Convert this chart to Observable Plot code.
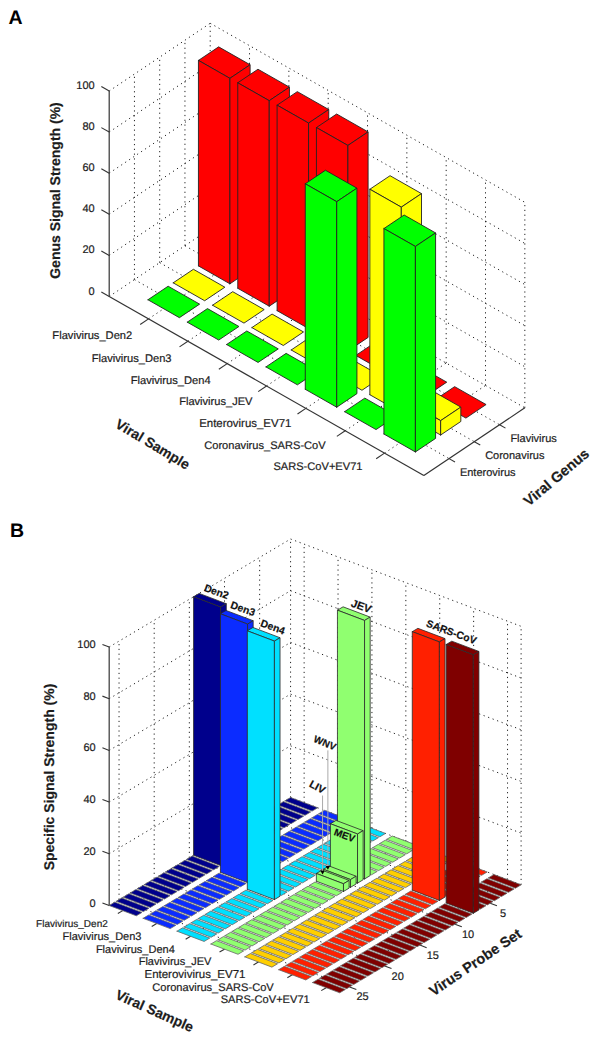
<!DOCTYPE html>
<html>
<head>
<meta charset="utf-8">
<script src="https://cdn.jsdelivr.net/npm/d3@7"></script>
<script src="https://cdn.jsdelivr.net/npm/@observablehq/plot@0.6"></script>
<style>
html,body{margin:0;padding:0;background:#fff}
svg{display:block}
svg text{text-rendering:geometricPrecision}
</style>
</head>
<body>
<div id="chart"></div>
<script>
// ---------- data: panel A ----------
const samplesA = ["Flavivirus_Den2","Flavivirus_Den3","Flavivirus_Den4","Flavivirus_JEV","Enterovirus_EV71","Coronavirus_SARS-CoV","SARS-CoV+EV71"];
const genera = ["Enterovirus","Coronavirus","Flavivirus"];
const enterovirusSignal = [0,0,0,0,100,0,100];
const coronavirusSignal = [0,0,0,0,0,100,7];
const flavivirusSignal  = [100,100,100,100,0,0,0];
const genusColors = ["#00ff00","#ffff00","#ff0000"];
const zTicks = [0,20,40,60,80,100];

// ---------- data: panel B ----------
const samplesB = ["Flavivirus_Den2","Flavivirus_Den3","Flavivirus_Den4","Flavivirus_JEV","Enterovivirus_EV71","Coronavirus_SARS-CoV","SARS-CoV+EV71"];
const probeTicks = [5,10,15,20,25];
const den2Signal = [0,0,0,0,0,0,0,0,0,0,0,0,0,100,0,0,0,0,0,0,0,0,0,0,0,0];
const den3Signal = [0,0,0,0,0,0,0,0,0,0,0,0,0,0,100,0,0,0,0,0,0,0,0,0,0,0];
const den4Signal = [0,0,0,0,0,0,0,0,0,0,0,0,0,0,0,100,0,0,0,0,0,0,0,0,0,0];
const jevSignal  = [0,0,0,0,0,0,0,100,19,3,3,0,0,0,0,0,0,0,0,0,0,0,0,0,0,0];
const ev71Signal = [0,0,0,0,0,0,0,0,0,0,0,0,0,0,0,0,0,0,0,0,0,0,0,0,0,0];
const sarsSignal = [0,0,0,0,0,0,100,0,0,0,0,0,0,0,0,0,0,0,0,0,0,0,0,0,0,0];
const mixSignal  = [0,0,0,0,0,0,100,0,0,0,0,0,0,0,0,0,0,0,0,0,0,0,0,0,0,0];
const sampleColorsB = ["#00008c","#0b2cff","#00e0ff","#90ff70","#ffcf00","#ff2000","#7f0000"];
const peakLabels = ["Den2","Den3","Den4","JEV","SARS-CoV"];

// ---------- 3D projections ----------
const PA = (x,y,z=0) => [108.7 + x*39.33 + y*25.25, 296 + x*22.38 - y*16.93 - z*2.055];
const PB = (x,y,z=0) => [108.7 + (x-0.6)*33.9 + (26.4-y)*7.03, 905 + (x-0.6)*12.84 - (26.4-y)*4.186 - z*2.585];

// polygon rows
function box(P, id, cx, cy, v, color, w, frontY, edge){
  const h = w/2, x0=cx-h, x1=cx+h, y0=cy-h, y1=cy+h;
  const fy = frontY < 0 ? y0 : y1, by = frontY < 0 ? y1 : y0;
  const faces = [[[x0,fy,v],[x0,by,v],[x1,by,v],[x1,fy,v]]];
  if (v > 0) {
    faces.push([[x0,fy,0],[x1,fy,0],[x1,fy,v],[x0,fy,v]]);
    faces.push([[x1,fy,0],[x1,by,0],[x1,by,v],[x1,fy,v]]);
  }
  const out = [];
  faces.forEach((f,i) => {
    [...f, f[0]].forEach(c => {
      const [px,py] = P(...c);
      out.push({id:`${id}-${i}`, px, py, color, edge});
    });
  });
  return out;
}

const polysA = [];
samplesA.forEach((s,i) => {
  [flavivirusSignal, coronavirusSignal, enterovirusSignal].forEach((series,j) => {
    const g = 3-j;
    polysA.push(...box(PA, `a${i}-${g}`, i+1, g, series[i], genusColors[g-1], 0.8, -1, "#222"));
  });
});
const seriesB = [den2Signal,den3Signal,den4Signal,jevSignal,ev71Signal,sarsSignal,mixSignal];
const polysB = [];
seriesB.forEach((series,i) => {
  series.forEach((v,j) => {
    polysB.push(...box(PB, `b${i}-${j}`, i+1, j+1, v, sampleColorsB[i], 0.8, 1, v > 0 ? "#2a2a2a" : "#666"));
  });
});

// ---------- grids ----------
const seg = (P,a,b) => { const p=P(...a), q=P(...b); return {x1:p[0],y1:p[1],x2:q[0],y2:q[1]}; };
const gridA = [], gridB = [];
zTicks.forEach(z => {
  gridA.push(seg(PA,[0,0,z],[0,4,z]), seg(PA,[0,4,z],[8,4,z]));
  gridB.push(seg(PB,[0.6,26.4,z],[0.6,0.6,z]), seg(PB,[0.6,0.6,z],[7.4,0.6,z]));
});
[1,2,3].forEach(y => gridA.push(seg(PA,[0,y,0],[0,y,100]), seg(PA,[0,y,0],[8,y,0])));
[1,2,3,4,5,6,7].forEach(x => {
  gridA.push(seg(PA,[x,4,0],[x,4,100]), seg(PA,[x,0,0],[x,4,0]));
  gridB.push(seg(PB,[x,0.6,0],[x,0.6,100]), seg(PB,[x,26.4,0],[x,0.6,0]));
});
gridA.push(seg(PA,[0,4,0],[0,4,100]), seg(PA,[8,4,0],[8,4,100]));
gridB.push(seg(PB,[0.6,0.6,0],[0.6,0.6,100]), seg(PB,[7.4,0.6,0],[7.4,0.6,100]));
probeTicks.forEach(y => gridB.push(seg(PB,[0.6,y,0],[0.6,y,100]), seg(PB,[0.6,y,0],[7.4,y,0])));

// ---------- axes ----------
const axesA = [seg(PA,[0,0,0],[0,0,100]), seg(PA,[0,0,0],[8,0,0]), seg(PA,[8,0,0],[8,4,0])];
const axesB = [seg(PB,[0.6,26.4,0],[0.6,26.4,100])];
const ticks = [];
zTicks.forEach(z => {
  ticks.push(seg(PA,[0,0,z],[-0.2,0,z]));
  ticks.push(seg(PB,[0.6,26.4,z],[0.4,26.4,z]));
});
samplesA.forEach((_,i) => {
  ticks.push(seg(PA,[i+1,0,0],[i+1,-0.33,0]));
  ticks.push(seg(PB,[i+1,26.4,0],[i+1,27.1,0]));
});
genera.forEach((_,i) => ticks.push(seg(PA,[8,i+1,0],[8.15,i+1,0])));
probeTicks.forEach(y => ticks.push(seg(PB,[7.4,y,0],[7.6,y,0])));

// ---------- text ----------
const FONT = "Liberation Sans, Arial, sans-serif";
const INK = "#1c1c1c";
const place = (p,dx,dy,t,fs) => ({x:p[0]+dx,y:p[1]+dy,t,fs});
const dxA=[-16.3,-16.3,-16.6,-14,-14.5,-19.5,-22], dyA=[16.6,16.9,16.5,15,14.7,14.6,13];
const fsA=[11.15,11.15,11.15,11.1,11.45,11.1,11.1];
const dxB=[-15,-15.2,-15.8,-13,-12.9,-18.5,-16.4], dyB=[13.2,13.4,13.2,12.4,12.6,12.4,12.2];
const fsB=[10,11,11,11,11.5,11.1,11.1];
const sampleTextA = samplesA.map((s,i)=>place(PA(i+1,0),dxA[i],dyA[i],s,fsA[i]));
const sampleTextB = samplesB.map((s,i)=>place(PB(i+1,26.4),dxB[i],dyB[i],s,fsB[i]));
const genusText = genera.map((s,i)=>place(PA(8,i+1),10.8,13.6,s,11));
const zTextA = zTicks.map(z=>place(PA(0,0,z),-14.5,-5.5,String(z),11));
const zTextB = zTicks.map(z=>place(PB(0.6,26.4,z),-13.5,-2.5,String(z),11));
const probeText = probeTicks.map(y=>place(PB(7.4,y),13,10,String(y),11));

const HALO = {stroke:INK,strokeWidth:0.2};
const txt = (data,o) => Plot.text(data,{x:"x",y:"y",text:"t",fontFamily:FONT,fill:INK,fontSize:d=>d.fs,...HALO,...o});
const one = (x,y,t) => [{x,y,t}];

const peaks = [
  [PB(1,13.8,100),5,-7.5,10.3],[PB(2,14.8,100),4.6,-7.5,10.3],[PB(3,15.8,100),7.7,-6.2,10.3],
  [PB(4,7.8,100),5.9,-6.3,11],[PB(6.5,7,100),5.7,-9.3,10.3]
];
const peakText = peaks.map((p,i)=>place(p[0],p[1],p[2],peakLabels[i],p[3]));

// probe call-outs (WNV, LIV)
const wnvFrom = PB(3.65,10,48.6), wnvTo = PB(3.65,10,3);
const livFrom = PB(3.7,11,33), livTo = PB(3.7,11,3);
const callouts = [
  {x1:wnvFrom[0],y1:wnvFrom[1],x2:wnvTo[0],y2:wnvTo[1]},
  {x1:livFrom[0],y1:livFrom[1],x2:livTo[0],y2:livTo[1]}
];

const plot = Plot.plot({
  width:600, height:1045, margin:0,
  x:{domain:[0,600], range:[0,600], axis:null},
  y:{domain:[0,1045], range:[0,1045], axis:null},
  color:{type:"identity"},
  style:{background:"#fff"},
  marks:[
    Plot.link(gridA,{x1:"x1",y1:"y1",x2:"x2",y2:"y2",stroke:"#222",strokeWidth:1,strokeDasharray:"1.2,3.6"}),
    Plot.link(gridB,{x1:"x1",y1:"y1",x2:"x2",y2:"y2",stroke:"#222",strokeWidth:1,strokeDasharray:"1.2,3.6"}),
    Plot.link(axesA,{x1:"x1",y1:"y1",x2:"x2",y2:"y2",stroke:"#333",strokeWidth:1.2}),
    Plot.link(axesB,{x1:"x1",y1:"y1",x2:"x2",y2:"y2",stroke:"#444",strokeWidth:1.3}),
    Plot.link(ticks,{x1:"x1",y1:"y1",x2:"x2",y2:"y2",stroke:"#333",strokeWidth:1.1}),
    Plot.line(polysA,{x:"px",y:"py",z:"id",fill:"color",stroke:"edge",strokeWidth:0.9,curve:"linear"}),
    Plot.line(polysB,{x:"px",y:"py",z:"id",fill:"color",stroke:"edge",strokeWidth:0.8,curve:"linear"}),
    Plot.link(callouts,{x1:"x1",y1:"y1",x2:"x2",y2:"y2",stroke:"#aaa",strokeWidth:1}),
    Plot.dot([{x:wnvTo[0],y:wnvTo[1]-1},{x:livTo[0],y:livTo[1]-1}],{x:"x",y:"y",symbol:"triangle",r:1.6,fill:"#000",rotate:180}),
    txt(sampleTextA,{textAnchor:"end"}),
    txt(sampleTextB,{textAnchor:"end"}),
    txt(genusText,{textAnchor:"start"}),
    txt(zTextA,{textAnchor:"end"}),
    txt(zTextB,{textAnchor:"end"}),
    txt(probeText,{textAnchor:"middle"}),
    txt(one(15,17,"A"),{fontSize:19.5,fontWeight:"bold",fill:"#000",stroke:null}),
    txt(one(16.5,530,"B"),{fontSize:19.5,fontWeight:"bold",fill:"#000",stroke:null}),
    txt(one(55,190,"Genus Signal Strength (%)"),{fontSize:14,fontWeight:"bold",rotate:-90}),
    txt(one(49,776.5,"Specific Signal Strength (%)"),{fontSize:14,fontWeight:"bold",rotate:-90}),
    txt(one(152,444,"Viral Sample"),{fontSize:14,fontWeight:"bold",rotate:31}),
    txt(one(154,1010.7,"Viral Sample"),{fontSize:14,fontWeight:"bold",rotate:24}),
    txt(one(556,477,"Viral Genus"),{fontSize:14.5,fontWeight:"bold",rotate:-40}),
    txt(one(475,962,"Virus Probe Set"),{fontSize:14.5,fontWeight:"bold",rotate:-34}),
    txt(peakText,{fontWeight:"bold",rotate:20,fill:"#111"}),
    txt(one(324.3,742.7,"WNV"),{fontSize:10,fontWeight:"bold",rotate:23,fill:"#111"}),
    txt(one(316.7,786.7,"LIV"),{fontSize:10.5,fontWeight:"bold",rotate:28,fill:"#111"}),
    txt(one(344,835,"MEV"),{fontSize:10,fontWeight:"bold",rotate:20,fill:"#111"})
  ]
});
document.getElementById("chart").appendChild(plot);
</script>
</body>
</html>
